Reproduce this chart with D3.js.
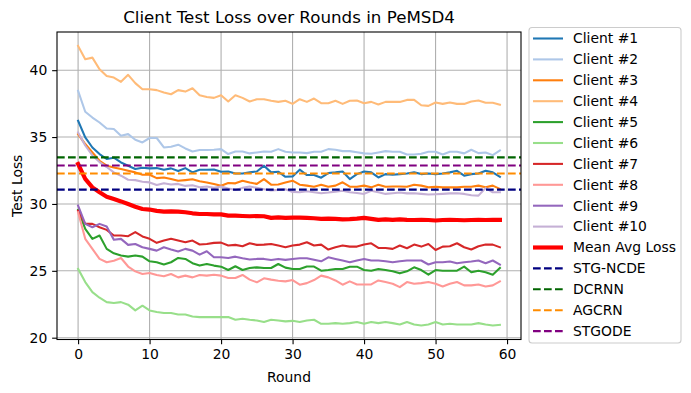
<!DOCTYPE html>
<meta charset="utf-8">
<style>
body {
  margin: 0;
  background: #fff;
  font-family: "DejaVu Sans";
  font-size: 13.9px;
}
.grid line {
  stroke: #b0b0b0;
  stroke-width: 1.1;
}
.series {
  fill: none;
  stroke-linejoin: round;
  stroke-linecap: square;
}
</style>
<body>
<script src="https://cdn.jsdelivr.net/npm/d3@7"></script>
<script>

// values, one array per client
var client1 = [36.22, 34.97, 34.22, 33.73, 33.36, 33.46, 33.1, 32.86, 32.61, 32.71, 32.66, 32.68, 32.56, 32.66, 32.46, 32.68, 32.36, 32.56, 32.56, 32.58,
  32.41, 32.43, 32.28, 32.28, 32.36, 32.43, 32.86, 32.36, 32.41, 32.03, 32.06, 32.56, 32.16, 32.16, 31.96, 32.31, 32.36, 32.43, 31.86, 32.23,
  32.43, 32.36, 31.98, 32.23, 32.18, 32.23, 32.28, 32.36, 32.23, 32.28, 32.23, 32.28, 32.36, 32.48, 32.11, 32.23, 32.28, 32.48, 32.36, 32.03];
var client2 = [38.46, 36.89, 36.46, 36.09, 35.64, 35.6, 35.1, 35.22, 34.8, 34.6, 34.93, 34.93, 34.22, 34.28, 34.43, 34.15, 33.92, 34.03, 34.03, 34.05,
  34.1, 33.73, 33.92, 33.92, 33.78, 33.85, 33.92, 33.9, 34.1, 33.9, 33.85, 33.85, 33.8, 33.9, 33.9, 34.1, 34.05, 33.95, 33.95, 33.87,
  33.78, 33.75, 33.85, 33.95, 33.9, 33.9, 33.7, 33.7, 33.75, 33.9, 33.9, 33.7, 33.9, 33.9, 33.78, 34.05, 33.8, 33.85, 33.65, 34.0];
var client3 = [35.22, 34.48, 33.85, 33.23, 32.86, 32.73, 32.61, 32.48, 32.36, 32.18, 32.18, 31.93, 31.98, 31.86, 31.73, 31.78, 31.84, 31.7, 31.61, 31.49,
  31.36, 31.56, 31.54, 31.74, 31.6, 31.5, 31.86, 31.44, 31.45, 31.6, 31.74, 31.44, 31.37, 31.29, 31.44, 31.29, 31.37, 31.62, 31.29, 31.29,
  31.37, 31.24, 31.44, 31.29, 31.3, 31.3, 31.29, 31.44, 31.37, 31.24, 31.29, 31.24, 31.24, 31.24, 31.29, 31.29, 31.37, 31.24, 31.37, 31.12];
var client4 = [41.81, 40.82, 40.94, 40.07, 39.57, 39.45, 39.13, 39.65, 39.03, 38.58, 38.58, 38.51, 38.33, 38.2, 38.51, 38.4, 38.65, 38.13, 38.0, 37.93,
  38.13, 37.66, 38.13, 37.93, 37.66, 37.83, 37.83, 37.71, 37.63, 37.71, 37.48, 37.83, 37.63, 37.88, 37.53, 37.53, 37.71, 37.48, 37.71, 37.73,
  37.53, 37.63, 37.43, 37.63, 37.63, 37.63, 37.78, 37.78, 37.38, 37.33, 37.58, 37.48, 37.58, 37.48, 37.48, 37.66, 37.73, 37.56, 37.56, 37.41];
var client5 = [29.55, 28.13, 27.39, 27.64, 26.64, 26.31, 26.14, 26.06, 26.14, 26.06, 25.71, 25.64, 25.47, 25.64, 25.96, 25.89, 25.57, 25.39, 25.51, 25.39,
  25.31, 25.06, 25.34, 25.06, 25.21, 25.26, 25.21, 25.21, 25.51, 25.24, 25.14, 25.14, 25.32, 25.32, 25.01, 25.06, 25.14, 25.14, 25.31, 25.31,
  25.06, 25.01, 25.14, 25.06, 24.96, 24.81, 24.96, 25.26, 25.06, 24.71, 25.06, 25.01, 25.01, 25.01, 25.31, 24.89, 25.01, 24.89, 24.71, 25.21];
var client6 = [25.15, 24.16, 23.41, 22.99, 22.66, 22.59, 22.66, 22.47, 22.04, 22.39, 22.04, 21.92, 21.84, 21.84, 21.74, 21.74, 21.59, 21.54, 21.54, 21.54,
  21.54, 21.54, 21.34, 21.41, 21.34, 21.29, 21.17, 21.34, 21.29, 21.22, 21.26, 21.17, 21.29, 21.34, 21.04, 21.04, 21.09, 21.04, 21.09, 21.17,
  21.04, 21.17, 21.09, 21.17, 21.09, 20.99, 21.17, 20.99, 20.91, 20.99, 21.17, 20.99, 21.04, 20.99, 20.99, 20.99, 21.09, 20.99, 20.91, 20.96];
var client7 = [29.5, 28.51, 28.51, 28.26, 28.06, 27.64, 27.64, 27.59, 27.89, 27.57, 27.39, 27.09, 27.26, 27.39, 27.26, 27.14, 27.26, 26.97, 27.01, 27.09,
  27.11, 26.89, 26.94, 26.84, 27.06, 26.94, 26.96, 27.01, 26.89, 26.76, 26.89, 26.96, 27.14, 26.89, 26.96, 26.59, 26.76, 26.89, 26.81, 26.81,
  26.96, 27.06, 26.71, 26.71, 26.64, 26.89, 26.69, 26.96, 26.81, 27.01, 26.56, 26.81, 26.84, 27.06, 26.76, 26.59, 26.84, 26.96, 26.96, 26.76];
var client8 = [29.38, 27.39, 26.64, 25.89, 25.64, 25.76, 25.96, 25.32, 24.96, 24.76, 24.84, 24.69, 24.59, 24.76, 24.51, 24.64, 24.51, 24.69, 24.64, 24.71,
  24.64, 24.46, 24.46, 24.69, 24.34, 24.14, 24.44, 24.34, 24.26, 24.21, 24.31, 23.96, 24.08, 24.31, 24.64, 24.51, 24.28, 23.96, 24.21, 23.98,
  23.98, 23.98, 24.28, 24.16, 24.03, 23.78, 24.16, 24.03, 24.08, 24.16, 24.03, 23.83, 24.03, 24.16, 23.91, 23.91, 23.98, 23.83, 23.91, 24.21];
var client9 = [29.87, 28.51, 28.26, 28.51, 28.31, 27.32, 27.39, 26.94, 27.01, 26.76, 26.64, 26.51, 26.76, 26.59, 26.44, 26.64, 26.51, 26.21, 26.46, 26.01,
  26.01, 25.96, 26.06, 25.94, 25.84, 25.89, 25.89, 25.81, 25.89, 25.82, 25.89, 25.94, 25.94, 25.82, 25.71, 26.01, 25.89, 25.77, 25.64, 25.77,
  25.89, 25.77, 25.77, 25.72, 25.64, 25.72, 25.77, 25.77, 25.77, 25.47, 25.64, 25.64, 25.69, 25.57, 25.64, 25.69, 25.77, 25.57, 25.77, 25.47];
var client10 = [35.34, 34.37, 33.63, 33.13, 32.76, 32.36, 32.11, 31.81, 31.78, 31.66, 31.61, 31.41, 31.55, 31.45, 31.5, 31.35, 31.4, 31.25, 31.3, 31.2,
  31.3, 31.15, 31.05, 31.2, 31.3, 31.2, 31.1, 31.0, 31.05, 31.1, 30.9, 30.87, 30.95, 30.87, 30.8, 30.85, 30.92, 30.99, 30.87, 30.82,
  30.75, 30.99, 30.87, 30.75, 30.8, 30.85, 30.79, 30.8, 30.75, 30.7, 30.72, 30.75, 30.79, 30.8, 30.75, 30.65, 30.62, 31.19, 30.87, 30.87];
var meanAvg = [32.99, 31.87, 31.24, 30.87, 30.54, 30.37, 30.19, 29.99, 29.79, 29.62, 29.58, 29.48, 29.43, 29.45, 29.43, 29.38, 29.3, 29.25, 29.25, 29.22,
  29.22, 29.13, 29.13, 29.1, 29.08, 29.1, 29.08, 28.96, 29.0, 28.96, 28.98, 28.98, 28.96, 28.93, 28.88, 28.9, 28.88, 28.85, 28.86, 28.9,
  28.96, 28.88, 28.81, 28.85, 28.81, 28.85, 28.81, 28.8, 28.82, 28.8, 28.76, 28.8, 28.81, 28.8, 28.78, 28.8, 28.81, 28.8, 28.81, 28.81];

var clientNames = ["Client #1", "Client #2", "Client #3", "Client #4", "Client #5",
  "Client #6", "Client #7", "Client #8", "Client #9", "Client #10"];
var clientValues = [client1, client2, client3, client4, client5, client6, client7, client8, client9, client10];

// reference models (horizontal dashed lines)
var baselineNames = ["STG-NCDE", "DCRNN", "AGCRN", "STGODE"];
var baselineValues = [31.07, 33.48, 32.28, 32.88];

var xTicks = [0, 10, 20, 30, 40, 50, 60];
var yTicks = [20, 25, 30, 35, 40];

var width = 691,
    height = 393;

var margin = {left: 57, right: 170, top: 32, bottom: 53.5};

var rounds = meanAvg.map(function(d, i) { return i; });

// matplotlib-like 5% padding
function pad(ext) {
  var p = (ext[1] - ext[0]) * 0.05;
  return [ext[0] - p, ext[1] + p];
}

var allValues = d3.merge(clientValues.concat([meanAvg]));

var x = d3.scaleLinear()
    .domain(pad(d3.extent(rounds)))
    .range([margin.left, width - margin.right]);

var y = d3.scaleLinear()
    .domain(pad(d3.extent(allValues)))
    .range([height - margin.bottom, margin.top]);

var tab20 = ["#1f77b4", "#aec7e8", "#ff7f0e", "#ffbb78", "#2ca02c",
  "#98df8a", "#d62728", "#ff9896", "#9467bd", "#c5b0d5"];
var baselineColors = ["#000080", "#006400", "#ff8c00", "#800080"];
var dash = "7.7,3.3";

var svg = d3.select("body").append("svg")
    .attr("width", width)
    .attr("height", height);

var x0 = margin.left, x1 = width - margin.right,
    y0 = height - margin.bottom, y1 = margin.top;

// grid
svg.append("g")
    .attr("class", "grid")
    .selectAll("line")
    .data(xTicks)
  .enter().append("line")
    .attr("x1", function(d) { return x(d); })
    .attr("x2", function(d) { return x(d); })
    .attr("y1", y0)
    .attr("y2", y1);

svg.append("g")
    .attr("class", "grid")
    .selectAll("line")
    .data(yTicks)
  .enter().append("line")
    .attr("x1", x0)
    .attr("x2", x1)
    .attr("y1", function(d) { return y(d); })
    .attr("y2", function(d) { return y(d); });

var plot = svg.append("g");

var line = d3.line()
    .x(function(d, i) { return x(i); })
    .y(function(d) { return y(d); });

plot.selectAll(".client")
    .data(clientValues)
  .enter().append("path")
    .attr("class", "series client")
    .attr("d", line)
    .attr("stroke", function(d, i) { return tab20[i]; })
    .attr("stroke-width", 2.08);

plot.append("path")
    .datum(meanAvg)
    .attr("class", "series")
    .attr("d", line)
    .attr("stroke", "red")
    .attr("stroke-width", 4.17);

plot.selectAll(".baseline")
    .data(baselineValues)
  .enter().append("line")
    .attr("class", "baseline")
    .attr("x1", x0)
    .attr("x2", x1)
    .attr("y1", function(d) { return y(d); })
    .attr("y2", function(d) { return y(d); })
    .attr("stroke", function(d, i) { return baselineColors[i]; })
    .attr("stroke-width", 2.08)
    .attr("stroke-dasharray", dash);

// axes
var xAxis = svg.append("g")
    .attr("transform", "translate(0," + y0 + ")")
    .call(d3.axisBottom(x).tickValues(xTicks).tickSize(4.86).tickPadding(4.86));

var yAxis = svg.append("g")
    .attr("transform", "translate(" + x0 + ",0)")
    .call(d3.axisLeft(y).tickValues(yTicks).tickSize(4.86).tickPadding(4.86));

[xAxis, yAxis].forEach(function(g) {
  g.select(".domain").remove();
  g.selectAll("line").attr("stroke", "#000").attr("stroke-width", 1.1);
  g.selectAll("text")
      .attr("fill", "#000")
      .style("font-family", "DejaVu Sans")
      .style("font-size", "13.9px");
});

// frame
svg.append("rect")
    .attr("x", x0)
    .attr("y", y1)
    .attr("width", x1 - x0)
    .attr("height", y0 - y1)
    .attr("fill", "none")
    .attr("stroke", "#000")
    .attr("stroke-width", 1.1);

svg.append("text")
    .attr("x", (x0 + x1) / 2)
    .attr("y", 23)
    .attr("text-anchor", "middle")
    .style("font-size", "16.7px")
    .text("Client Test Loss over Rounds in PeMSD4");

svg.append("text")
    .attr("x", (x0 + x1) / 2)
    .attr("y", 382)
    .attr("text-anchor", "middle")
    .text("Round");

svg.append("text")
    .attr("transform", "translate(22," + ((y0 + y1) / 2) + ") rotate(-90)")
    .attr("text-anchor", "middle")
    .text("Test Loss");

// legend
var legendItems = clientNames.map(function(n, i) {
  return {name: n, color: tab20[i], w: 2.08, dash: null};
});
legendItems.push({name: "Mean Avg Loss", color: "red", w: 4.17, dash: null});
baselineNames.forEach(function(n, i) {
  legendItems.push({name: n, color: baselineColors[i], w: 2.08, dash: dash});
});

var legend = svg.append("g");

legend.append("rect")
    .attr("x", 529)
    .attr("y", 27.5)
    .attr("width", 152)
    .attr("height", 315.5)
    .attr("rx", 3)
    .attr("fill", "#fff")
    .attr("fill-opacity", 0.8)
    .attr("stroke", "#cccccc")
    .attr("stroke-width", 1.1);

var entry = legend.selectAll(".entry")
    .data(legendItems)
  .enter().append("g")
    .attr("class", "entry")
    .attr("transform", function(d, i) { return "translate(0," + (38.5 + i * 20.9) + ")"; });

entry.append("line")
    .attr("x1", 533)
    .attr("x2", 563)
    .attr("stroke", function(d) { return d.color; })
    .attr("stroke-width", function(d) { return d.w; })
    .attr("stroke-dasharray", function(d) { return d.dash; });

entry.append("text")
    .attr("x", 573)
    .attr("dy", "0.35em")
    .text(function(d) { return d.name; });

</script>
